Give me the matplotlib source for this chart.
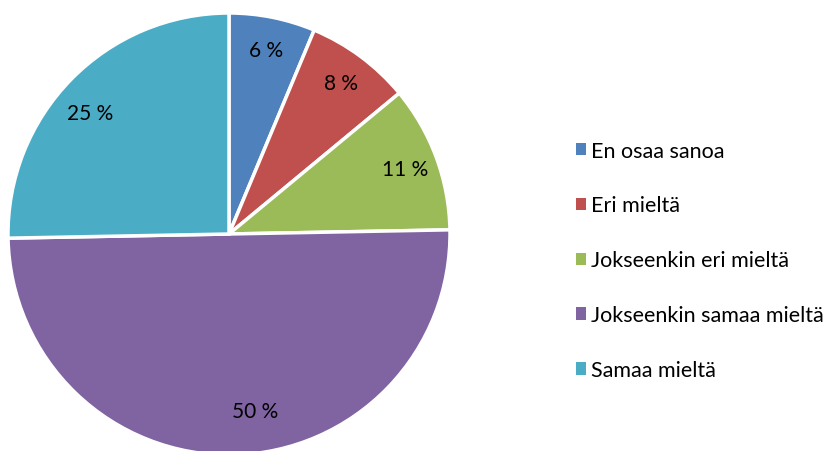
import matplotlib.pyplot as plt
from matplotlib.patches import Patch

plt.rcParams['font.family'] = ['Lato', 'DejaVu Sans']

labels = ['En osaa sanoa', 'Eri mieltä', 'Jokseenkin eri mieltä',
          'Jokseenkin samaa mieltä', 'Samaa mieltä']
# shares in %, labels show them rounded
values = [6.3, 7.7, 10.7, 50.0, 25.3]
colors = ['#4F81BD', '#C0504D', '#9BBB59', '#8064A2', '#4BACC6']

fig = plt.figure(figsize=(8.36, 4.52), dpi=100)
ax = fig.add_axes([8 / 836, -4 / 452, 442 / 836, 442 / 452])

wedges, texts, autotexts = ax.pie(
    values, colors=colors, startangle=90, counterclock=False,
    autopct=lambda p: '{:.0f} %'.format(p), pctdistance=0.85,
    wedgeprops=dict(edgecolor='white', linewidth=2.5),
    textprops=dict(fontsize=15, color='black'))
# Excel nudges the big slice label a bit off centre
x, y = autotexts[3].get_position()
autotexts[3].set_position((x + 0.1, y + 0.05))
x, y = autotexts[4].get_position()
autotexts[4].set_position((x - 0.02, y - 0.05))
ax.set_xlim(-1, 1)
ax.set_ylim(-1, 1)
ax.set_aspect('equal')

handles = [Patch(facecolor=c, edgecolor='none') for c in colors]
leg = fig.legend(handles, labels, loc='upper left', bbox_to_anchor=(567 / 836, 1 - 133 / 452),
                 frameon=False, fontsize=15.5, handlelength=0.5, handleheight=0.5,
                 handletextpad=0.2, labelspacing=1.62, borderaxespad=0)

fig.savefig('out.png', dpi=100)
